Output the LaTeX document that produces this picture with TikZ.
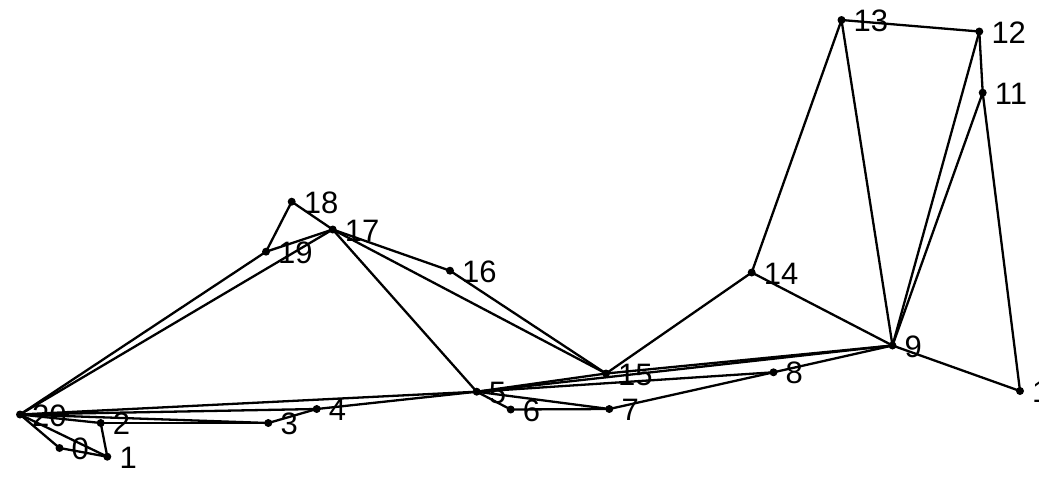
\documentclass[tikz,border=0pt]{standalone}
\usepackage{fontspec}
\setmainfont{Liberation Sans}
\begin{document}
\begin{tikzpicture}[x=1pt,y=-1pt,
  dot/.style={circle,fill=black,inner sep=0pt,minimum size=8pt},
  lbl/.style={anchor=west,inner sep=0pt,xshift=12pt,yshift=-1pt,font=\fontsize{31}{31}\selectfont},
  edge/.style={line width=2.3pt,line cap=round,line join=round}]
\useasboundingbox (0,0) rectangle (1039,477);
\clip (0,0) rectangle (1039,477);
\node[dot] (n0) at (59.5,448) {};
\node[dot] (n1) at (107.3,456.7) {};
\node[dot] (n2) at (100.7,423) {};
\node[dot] (n3) at (268.3,423) {};
\node[dot] (n4) at (316.7,409) {};
\node[dot] (n5) at (476.7,391.7) {};
\node[dot] (n6) at (510.7,409.5) {};
\node[dot] (n7) at (609.3,409) {};
\node[dot] (n8) at (773.5,372.3) {};
\node[dot] (n9) at (892.5,345.5) {};
\node[dot] (n10) at (1020,391) {};
\node[dot] (n11) at (982.7,92.7) {};
\node[dot] (n12) at (979.3,31.5) {};
\node[dot] (n13) at (841.5,20) {};
\node[dot] (n14) at (751.7,272.5) {};
\node[dot] (n15) at (606,373.5) {};
\node[dot] (n16) at (450,270.7) {};
\node[dot] (n17) at (332.7,229.5) {};
\node[dot] (n18) at (291.7,201.7) {};
\node[dot] (n19) at (266,251.7) {};
\node[dot] (n20) at (20,414.5) {};
\foreach \i in {0,...,20} { \node[lbl] (l\i) at (n\i.center) {\i}; }
% boundary cycle
\foreach \a/\b in {0/1,1/2,2/3,3/4,4/5,5/6,6/7,7/8,8/9,9/10,10/11,11/12,12/13,13/14,14/15,15/16,16/17,17/18,18/19,19/20,20/0}
  { \draw[edge] (n\a.center) -- (n\b.center); }
% diagonals
\foreach \a/\b in {20/1,20/2,20/3,20/4,20/5,20/17,17/19,17/5,17/15,5/15,15/9,14/9,13/9,12/9,11/9,5/9,5/8,5/7}
  { \draw[edge] (n\a.center) -- (n\b.center); }
\end{tikzpicture}
\end{document}
